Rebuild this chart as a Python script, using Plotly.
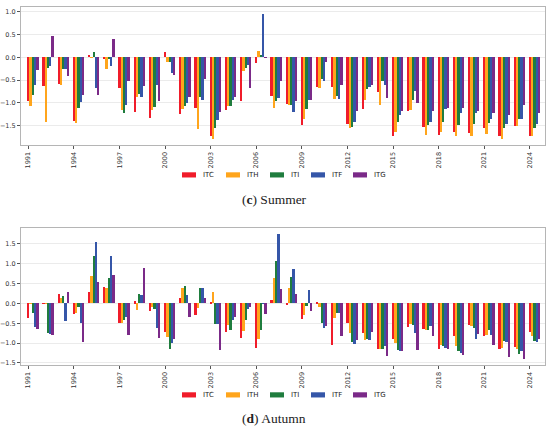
import plotly.graph_objects as go

years = list(range(1991, 2025))
series = ["ITC", "ITH", "ITI", "ITF", "ITG"]
colors = ["#f01c2a", "#ffa51c", "#1f7d3e", "#3556a8", "#7b2a88"]

# Summer (c)
summer_ITC = [-0.96, -0.64, -0.58, -1.41, 0.05, -0.02, -0.67, -1.20, -1.34, 0.12, -1.24, -1.11, -1.73, -1.15, -0.96, -0.12, -0.85,
              -1.02, -1.50, -0.66, -0.66, -1.48, -1.13, -0.77, -1.73, -1.18, -1.53, -1.72, -1.64, -1.66, -1.55, -1.74, -1.51, -1.73]
summer_ITH = [-1.07, -1.42, -0.61, -1.45, -0.01, -0.25, -1.15, -0.87, -1.17, -0.11, -1.13, -1.57, -1.79, -1.07, -0.29, 0.13, -1.11,
              -1.06, -1.35, -0.67, -0.91, -1.56, -0.94, -1.04, -1.64, -1.15, -1.72, -1.64, -1.74, -1.73, -1.69, -1.79, -1.51, -1.73]
summer_ITI = [-0.84, -0.23, -0.25, -1.11, 0.12, -0.02, -1.23, -0.80, -1.10, -0.11, -1.08, -0.88, -1.55, -1.07, -0.23, 0.05, -0.96,
              -1.06, -1.13, -0.47, -0.85, -1.53, -0.69, -0.53, -1.42, -0.95, -1.50, -1.42, -1.50, -1.46, -1.45, -1.56, -1.36, -1.55]
summer_ITF = [-0.62, -0.18, -0.25, -0.98, -0.67, -0.20, -1.04, -0.87, -0.62, -0.34, -1.00, -0.93, -1.39, -0.93, -0.16, 0.95, -0.90,
              -1.20, -0.93, -0.53, -0.91, -1.42, -0.66, -0.62, -1.27, -0.74, -1.42, -1.13, -1.22, -1.23, -1.36, -1.47, -1.36, -1.46]
summer_ITG = [-0.28, 0.47, -0.41, -0.84, -0.83, 0.40, -0.53, -0.64, -0.96, -0.38, -0.88, -0.47, -1.20, -0.88, -0.67, -0.01, -0.53,
              -0.96, -0.95, -0.10, -0.62, -1.18, -0.62, -0.90, -1.18, -1.00, -1.18, -1.11, -1.11, -1.18, -1.23, -1.26, -1.06, -1.22]

# Autumn (d)
autumn_ITC = [-0.36, -0.01, 0.23, -0.27, 0.29, 0.42, -0.49, 0.05, -0.18, -0.72, 0.14, -0.30, 0.02, -0.72, -0.86, -1.11, 0.08,
              -0.05, -0.39, 0.03, -1.04, -0.49, -0.75, -1.15, -0.89, -0.59, -0.64, -1.16, -0.83, -0.54, -0.83, -1.16, -1.10, -0.72]
autumn_ITH = [-0.01, -0.01, 0.13, -0.25, 0.68, 0.40, -0.49, -0.16, -0.08, -0.85, 0.38, -0.12, 0.28, -0.55, -0.69, -0.89, 0.65,
              0.39, -0.28, -0.08, -0.36, -0.74, -0.92, -1.14, -1.00, -0.51, -0.66, -1.05, -1.06, -0.56, -0.79, -1.11, -1.16, -0.81]
autumn_ITI = [-0.23, -0.74, 0.18, -0.08, 1.19, 0.63, -0.41, 0.25, -0.13, -1.14, 0.43, 0.40, -0.51, -0.66, -0.41, -0.68, 1.06,
              0.66, -0.07, -0.49, -0.23, -0.98, -0.89, -1.14, -1.18, -0.55, -0.68, -1.08, -1.20, -0.61, -0.68, -0.95, -1.28, -0.95]
autumn_ITF = [-0.60, -0.76, -0.43, -0.49, 1.54, 1.20, -0.33, 0.22, -0.61, -1.00, 0.20, 0.40, -0.51, -0.41, -0.13, -0.01, 1.76,
              0.87, 0.35, -0.61, -0.23, -1.03, -0.91, -1.08, -1.20, -0.74, -0.58, -1.12, -1.26, -0.89, -0.79, -0.97, -1.20, -0.98]
autumn_ITG = [-0.65, -0.79, 0.28, -0.97, 0.55, 0.71, -0.80, 0.90, -0.86, -0.90, -0.33, 0.13, -1.18, -0.34, -0.08, -0.26, 0.37,
              0.23, -0.19, -0.56, -0.82, -0.91, -0.72, -1.33, -1.20, -1.18, -0.83, -1.14, -1.31, -0.76, -1.04, -1.36, -1.40, -0.90]

summer = [summer_ITC, summer_ITH, summer_ITI, summer_ITF, summer_ITG]
autumn = [autumn_ITC, autumn_ITH, autumn_ITI, autumn_ITF, autumn_ITG]

tick_years = list(range(1991, 2025, 3))
summer_yticks = [-1.5, -1.0, -0.5, 0.0, 0.5, 1.0]
autumn_yticks = [-1.5, -1.0, -0.5, 0.0, 0.5, 1.0, 1.5]

W, H = 550, 435
bw = 0.15

fig = go.Figure()

def add_panel(data, xa, ya):
    for i, (name, vals) in enumerate(zip(series, data)):
        fig.add_trace(go.Bar(
            x=years, y=vals, name=name, xaxis=xa, yaxis=ya,
            width=bw, offset=i * bw - bw / 2,
            marker=dict(color=colors[i], line=dict(width=0)),
            showlegend=False,
        ))

add_panel(summer, "x", "y")
add_panel(autumn, "x2", "y2")

def px_x(p):
    return p / W

def px_y(p):
    return 1 - p / H

axis_common = dict(
    showline=True, mirror=True, linecolor="#b5b5b5", linewidth=1,
    tickfont=dict(family="DejaVu Sans", size=6.5, color="#333333"),
    ticks="outside", ticklen=3, tickcolor="#555555", tickwidth=0.8,
    zeroline=False,
)

xdom = [px_x(21), px_x(545)]
fig.update_layout(
    width=W, height=H,
    margin=dict(l=0, r=0, t=0, b=0),
    paper_bgcolor="white", plot_bgcolor="white",
    barmode="overlay", bargap=0,
    xaxis=dict(domain=xdom, anchor="y", range=[1990.52, 2024.99],
               tickvals=tick_years, ticktext=[str(t) for t in tick_years],
               tickangle=-90, showgrid=False, **axis_common),
    yaxis=dict(domain=[px_y(146), px_y(7)], anchor="x", range=[-1.94, 1.11],
               tickvals=summer_yticks, ticktext=[f"{v:.1f}".replace("-", "\u2212") for v in summer_yticks],
               showgrid=True, gridcolor="#ebebeb", gridwidth=1, **axis_common),
    xaxis2=dict(domain=xdom, anchor="y2", range=[1990.52, 2024.99],
                tickvals=tick_years, ticktext=[str(t) for t in tick_years],
                tickangle=-90, showgrid=False, **axis_common),
    yaxis2=dict(domain=[px_y(367), px_y(229)], anchor="x2", range=[-1.56, 1.9],
                tickvals=autumn_yticks, ticktext=[f"{v:.1f}".replace("-", "\u2212") for v in autumn_yticks],
                showgrid=True, gridcolor="#ebebeb", gridwidth=1, **axis_common),
)

# manual legends + captions
swatch_x = [182, 226, 270, 311, 353]
shapes = []
annotations = []
for ly in (175.7, 396.7):
    for sx, name, c in zip(swatch_x, series, colors):
        shapes.append(dict(type="rect", xref="paper", yref="paper",
                           x0=px_x(sx), x1=px_x(sx + 14), y0=px_y(ly + 2.6), y1=px_y(ly - 2.6),
                           fillcolor=c, line=dict(width=0)))
        annotations.append(dict(xref="paper", yref="paper", x=px_x(sx + 19), y=px_y(ly),
                                xanchor="left", yanchor="middle", showarrow=False,
                                text=name, font=dict(family="DejaVu Sans", size=7, color="#222222")))

for cy, letter, season in ((200, "c", "Summer"), (420, "d", "Autumn")):
    annotations.append(dict(xref="paper", yref="paper", x=px_x(274), y=px_y(cy),
                            xanchor="center", yanchor="middle", showarrow=False,
                            text=f"(<b>{letter}</b>) {season}",
                            font=dict(family="Liberation Serif", size=13.5, color="#222222")))

fig.update_layout(shapes=shapes, annotations=annotations)

fig.write_html("out.html", config={"displayModeBar": False},
               post_script="document.body.style.margin='0';")
